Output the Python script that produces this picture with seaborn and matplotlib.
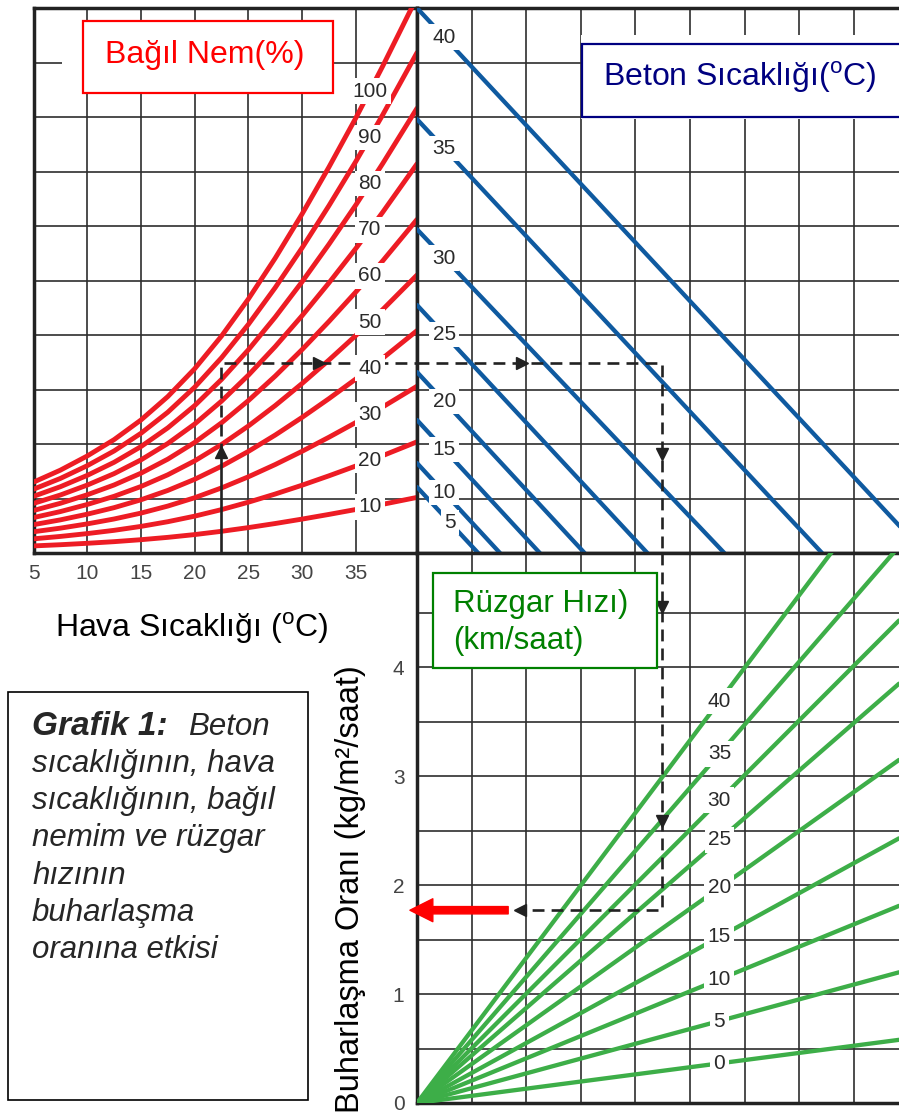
import numpy as np
import pandas as pd
import matplotlib
matplotlib.use("Agg")
import matplotlib.pyplot as plt
import seaborn as sns
from matplotlib.patches import Rectangle

# Style
sns.set_style("white")
plt.rcParams['font.family'] = ['Liberation Sans', 'DejaVu Sans']
plt.rcParams['mathtext.fontset'] = 'custom'
plt.rcParams['mathtext.rm'] = 'Liberation Sans'

# ---- data ----
# saturation curve (100 % RH) in grid units of the upper panel
air_temp = [5, 7.5, 10, 12.5, 15, 17.5, 20, 22.5, 25, 27.5, 30, 32.5, 35, 37.5, 40.7]
sat_vapor = [1.30, 1.52, 1.78, 2.08, 2.44, 2.87, 3.38, 3.98, 4.66, 5.41, 6.22, 7.08, 7.98, 8.93, 10.2]
rh_levels = [10, 20, 30, 40, 50, 60, 70, 80, 90, 100]

# concrete temperature lines: value at the middle axis and x where they reach zero
concrete_temps = [5, 10, 15, 20, 25, 30, 35, 40]
concrete_start = [1.21, 1.65, 2.44, 3.32, 4.55, 5.94, 7.96, 10.0]
concrete_end = [1.12, 1.52, 2.25, 3.07, 4.22, 5.63, 7.42, 9.30]

# wind speed lines: evaporation rate reached at the right edge
wind_speeds = [0, 5, 10, 15, 20, 25, 30, 35, 40]
evap_at_edge = [0.58, 1.20, 1.81, 2.43, 3.15, 3.85, 4.43, 5.11, 5.88]

# worked example (dashed path)
example_air = 22.5
example_vapor = 3.49
example_x = 4.48
example_evap = 1.77

# ---- layout ----
W, H = 899, 1113
X_EDGE = 8.83
EV_TOP = 5.05
RED = '#ED1C24'
BLUE = '#0F5AA0'
GREEN = '#3DAE48'
GRID = '#2E2E2E'
INK = '#2A2A2A'

fig = plt.figure(figsize=(W / 100, H / 100), dpi=100)


def fig_box(x0, y0, x1, y1):
    return [x0 / W, 1 - y1 / H, (x1 - x0) / W, (y1 - y0) / H]


ax_rh = fig.add_axes(fig_box(33.5, 8, 417, 553))
ax_ct = fig.add_axes(fig_box(417, 8, 899, 553))
ax_ev = fig.add_axes(fig_box(417, 553, 899, 1103))

# relative humidity curves
red_df = pd.DataFrame([{'temp': t, 'vapor': rh / 100 * s, 'rh': rh}
                       for rh in rh_levels for t, s in zip(air_temp, sat_vapor)])
sns.lineplot(data=red_df, x='temp', y='vapor', units='rh', estimator=None, sort=False,
             color=RED, linewidth=3.5, ax=ax_rh, zorder=3)

# concrete temperature lines
blue_df = pd.DataFrame([{'x': x, 'y': y, 'tc': tc}
                        for tc, s, e in zip(concrete_temps, concrete_start, concrete_end)
                        for x, y in [(0, s), (e, 0)]])
sns.lineplot(data=blue_df, x='x', y='y', units='tc', estimator=None, sort=False,
             color=BLUE, linewidth=3.1, ax=ax_ct, zorder=3)

# wind speed lines
green_df = pd.DataFrame([{'x': x, 'y': y, 'ws': ws}
                         for ws, ev in zip(wind_speeds, evap_at_edge)
                         for x, y in [(0, 0), (X_EDGE, ev)]])
sns.lineplot(data=green_df, x='x', y='y', units='ws', estimator=None, sort=False,
             color=GREEN, linewidth=3.1, ax=ax_ev, zorder=3)

# axes limits, grid and frame
ax_rh.set_xlim(5, 40.7)
ax_rh.set_ylim(0, 10)
ax_ct.set_xlim(0, X_EDGE)
ax_ct.set_ylim(0, 10)
ax_ev.set_xlim(0, X_EDGE)
ax_ev.set_ylim(0, EV_TOP)

ax_rh.set_xticks(range(5, 40, 5))
ax_rh.set_yticks(range(0, 11))
ax_ct.set_xticks(range(0, 9))
ax_ct.set_yticks(range(0, 11))
ax_ev.set_xticks(range(0, 9))
ax_ev.set_yticks(range(0, 5))
ax_ev.set_yticks(np.arange(0.5, 5.01, 1.0), minor=True)

for ax in (ax_rh, ax_ct, ax_ev):
    ax.set_xlabel('')
    ax.set_ylabel('')
    ax.set_axisbelow(True)
    ax.grid(True, which='both', color=GRID, linewidth=1.2)
    for sp in ax.spines.values():
        sp.set_linewidth(2.5)
        sp.set_color('#222222')
    ax.tick_params(length=0, labelleft=False, labelbottom=False)

ax_ct.spines['right'].set_visible(False)
ax_ev.spines['right'].set_visible(False)

ax_rh.tick_params(axis='x', labelbottom=True, labelsize=15, labelcolor='#444444', pad=8)
ax_ev.tick_params(axis='y', which='major', labelleft=True, labelsize=15,
                  labelcolor='#444444', pad=9)
ax_ev.tick_params(axis='y', which='minor', length=3, width=1.2, color=GRID)

# curve labels with white background that breaks the lines
lab_kw = dict(ha='center', va='center', fontsize=15, color=INK, zorder=5,
              bbox=dict(boxstyle='square,pad=0.16', fc='white', ec='none'))
rh_lab_t = 36.3
for rh in rh_levels:
    ax_rh.text(rh_lab_t, rh / 100 * np.interp(rh_lab_t, air_temp, sat_vapor), str(rh), **lab_kw)

for tc, s, e in zip(concrete_temps, concrete_start, concrete_end):
    lx = 0.5 if tc >= 10 else 0.6
    ax_ct.text(lx, s - s / e * lx, str(tc), **lab_kw)

ws_lab_x = 5.54
for ws, ev in zip(wind_speeds, evap_at_edge):
    ax_ev.text(ws_lab_x, ev * ws_lab_x / X_EDGE, str(ws), **lab_kw)

# worked example path
dash_kw = dict(color='#222222', linewidth=1.9, dashes=(4.5, 2.7), zorder=4)
solid_top = 1.80
ax_rh.plot([example_air, example_air], [0, solid_top], color='#222222', linewidth=1.9, zorder=4)
ax_rh.plot([example_air, example_air, 40.7], [solid_top, example_vapor, example_vapor], **dash_kw)
ax_ct.plot([0, example_x, example_x], [example_vapor, example_vapor, 0], **dash_kw)
ax_ev.plot([example_x, example_x, 1.95], [EV_TOP, example_evap, example_evap], **dash_kw)

mk_kw = dict(color='#222222', markersize=8, linestyle='none', zorder=4)
ax_rh.plot(example_air, solid_top + 0.05, marker='^', **mk_kw)
ax_rh.plot((example_air + 40.7) / 2, example_vapor, marker='>', **mk_kw)
ax_ct.plot(example_x * 0.43, example_vapor, marker='>', **mk_kw)
ax_ct.plot(example_x, example_vapor * 0.52, marker='v', **mk_kw)
ax_ev.plot(example_x, example_evap + (EV_TOP - example_evap) * 0.85, marker='v', **mk_kw)
ax_ev.plot(example_x, example_evap + (EV_TOP - example_evap) * 0.25, marker='v', **mk_kw)
ax_ev.plot(1.88, example_evap, marker='<', **mk_kw)

# result arrow (red)
ax_ev.annotate('', xy=(-0.13, example_evap), xytext=(1.67, example_evap),
               arrowprops=dict(arrowstyle='simple,head_length=0.75,head_width=0.75,tail_width=0.24',
                               color='#FF0000', mutation_scale=22, shrinkA=0, shrinkB=0),
               annotation_clip=False, zorder=6)


# ---- boxes and captions ----
def fig_rect(x0, y0, x1, y1, **kw):
    fig.add_artist(Rectangle((x0 / W, 1 - y1 / H), (x1 - x0) / W, (y1 - y0) / H,
                             transform=fig.transFigure, **kw))


def fig_text(x, y, s, **kw):
    fig.text(x / W, 1 - y / H, s, **kw)


deg = r'$^{\mathrm{o}}$'

fig_rect(62, 21, 333, 93, fc='white', ec='none', zorder=3)
fig_rect(83, 21, 333, 93, fc='white', ec='#FF0000', lw=1.6, zorder=3)
fig_text(105, 63, 'Bağıl Nem(%)', color='#FF0000', fontsize=23, va='baseline', zorder=4)

fig_rect(581, 35, 899, 119, fc='white', ec='none', zorder=3)
fig_rect(582, 44, 910, 117, fc='white', ec='#000080', lw=1.6, zorder=3)
fig_text(603, 86, 'Beton Sıcaklığı(' + deg + 'C)', color='#000080', fontsize=23,
         va='baseline', zorder=4)

fig_rect(433, 573, 657, 668, fc='white', ec='#008000', lw=1.6, zorder=3)
fig_text(453, 612, 'Rüzgar Hızı)', color='#008000', fontsize=22.5, va='baseline', zorder=4)
fig_text(453, 649, '(km/saat)', color='#008000', fontsize=22.5, va='baseline', zorder=4)

fig_text(55, 637, 'Hava Sıcaklığı (' + deg + 'C)', color='black', fontsize=23, va='baseline')
fig_text(350, 889, 'Buharlaşma Oranı (kg/m²/saat)', color='black', fontsize=23.5,
         rotation=90, ha='center', va='center')

fig_rect(8, 692, 308, 1100, fc='white', ec='black', lw=1.2, zorder=3)
fig_text(32, 735, 'Grafik 1:', fontsize=24, style='italic', weight='bold', va='baseline', zorder=4)
fig_text(188, 735, 'Beton', fontsize=22.5, style='italic', va='baseline', zorder=4)
caption = ['sıcaklığının, hava', 'sıcaklığının, bağıl', 'nemim ve rüzgar',
           'hızının', 'buharlaşma', 'oranına etkisi']
for i, line in enumerate(caption):
    fig_text(32, 772 + i * 37.2, line, fontsize=22.5, style='italic', va='baseline', zorder=4)

fig.savefig('out.png', dpi=100)
